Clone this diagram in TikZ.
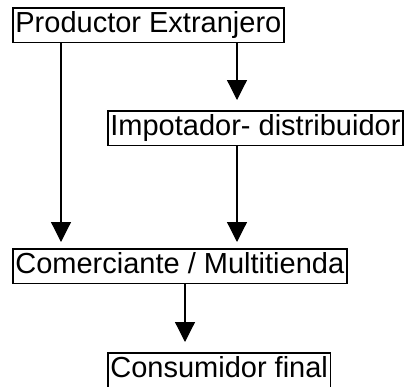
\documentclass[tikz,border=0pt]{standalone}
\usepackage{fontspec}
\setmainfont{Liberation Sans}
\usetikzlibrary{arrows.meta}
\begin{document}
\begin{tikzpicture}[x=1bp,y=1bp,
  box/.style={draw=black,line width=1.8bp,anchor=north west,inner xsep=2.5bp,inner ysep=3.5bp,
    font=\fontsize{29bp}{30bp}\selectfont,text height=21.5bp,text depth=6bp},
  arr/.style={line width=1.2bp,-{Triangle[length=20bp,width=20bp]}}]
\useasboundingbox (0,0) rectangle (404,-387);
\node[box] (pe) at (12,-7) {Productor Extranjero};
\node[box] (im) at (107,-110) {Impotador- distribuidor};
\node[box] (co) at (12,-248) {Comerciante / Multitienda};
\node[box] (cf) at (107,-352) {Consumidor final};
\draw[arr,shorten >=10bp] ([xshift=225bp]pe.south west) -- ([xshift=225bp]pe.south west |- im.north);
\draw[arr,shorten >=6bp] ([xshift=49bp]pe.south west) -- ([xshift=49bp]pe.south west |- co.north);
\draw[arr,shorten >=6bp] ([xshift=130bp]im.south west) -- ([xshift=130bp]im.south west |- co.north);
\draw[arr,shorten >=10bp] ([xshift=173bp]co.south west) -- ([xshift=173bp]co.south west |- cf.north);
\end{tikzpicture}
\end{document}
